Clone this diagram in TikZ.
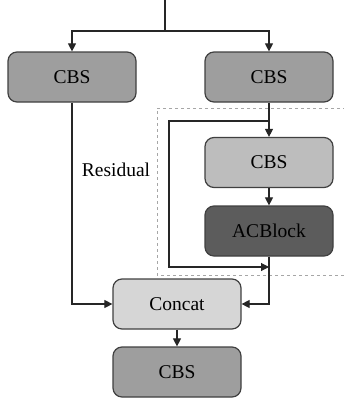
\documentclass[tikz,border=0pt]{standalone}
\usepackage{fontspec}
\setmainfont{Liberation Serif}
\usetikzlibrary{arrows.meta}
\definecolor{cbsA}{gray}{0.62}
\definecolor{cbsB}{gray}{0.74}
\definecolor{acb}{gray}{0.36}
\definecolor{cat}{gray}{0.84}
\definecolor{edge}{gray}{0.25}
\tikzset{
  blk/.style={draw=edge, line width=1.2pt, rounded corners=9pt, minimum width=128pt, minimum height=50pt, inner sep=0pt, font=\fontsize{19.5}{21}\selectfont},
  conn/.style={line width=1.1pt, draw=black!85},
  arr/.style={conn, -{Triangle[length=8pt,width=8pt]}},
  dbox/.style={draw=gray!70, dashed, line width=0.7pt}
}
\begin{document}
\begin{tikzpicture}[x=1pt,y=-1pt]
\useasboundingbox (0,0) rectangle (344,400);
% dashed region
\draw[dbox] (346,108) -- (157,108) -- (157,275) -- (346,275);
% nodes
\node[blk, fill=cbsA] (cbsl) at (72,77) {CBS};
\node[blk, fill=cbsA] (cbsr) at (269,77) {CBS};
\node[blk, fill=cbsB] (cbsm) at (269,162.5) {CBS};
\node[blk, fill=acb] (acb) at (269,231) {ACBlock};
\node[blk, fill=cat] (concat) at (177,304) {Concat};
\node[blk, fill=cbsA] (cbsb) at (177,372) {CBS};
\node[font=\fontsize{19.5}{21}\selectfont] (res) at (116,170) {Residual};
% coordinates
\coordinate (top) at (165,0);
\coordinate (split) at (165,31);
\coordinate (branch) at (269,121);
\coordinate (bl) at (169,121);
\coordinate (bb) at (169,267);
\coordinate (merge) at (269,267);
% connectors
\draw[conn] (top) -- (split);
\draw[arr] (split) -| (cbsl.north);
\draw[arr] (split) -| (cbsr.north);
\draw[arr] (cbsr.south) -- (cbsm.north);
\draw[arr] (cbsm.south) -- (acb.north);
\draw[arr] (branch) -- (bl) -- (bb) -- (merge);
\draw[arr] (acb.south) |- (concat.east);
\draw[arr] (cbsl.south) |- (concat.west);
\draw[arr] (concat.south) -- (cbsb.north);
\end{tikzpicture}
\end{document}
